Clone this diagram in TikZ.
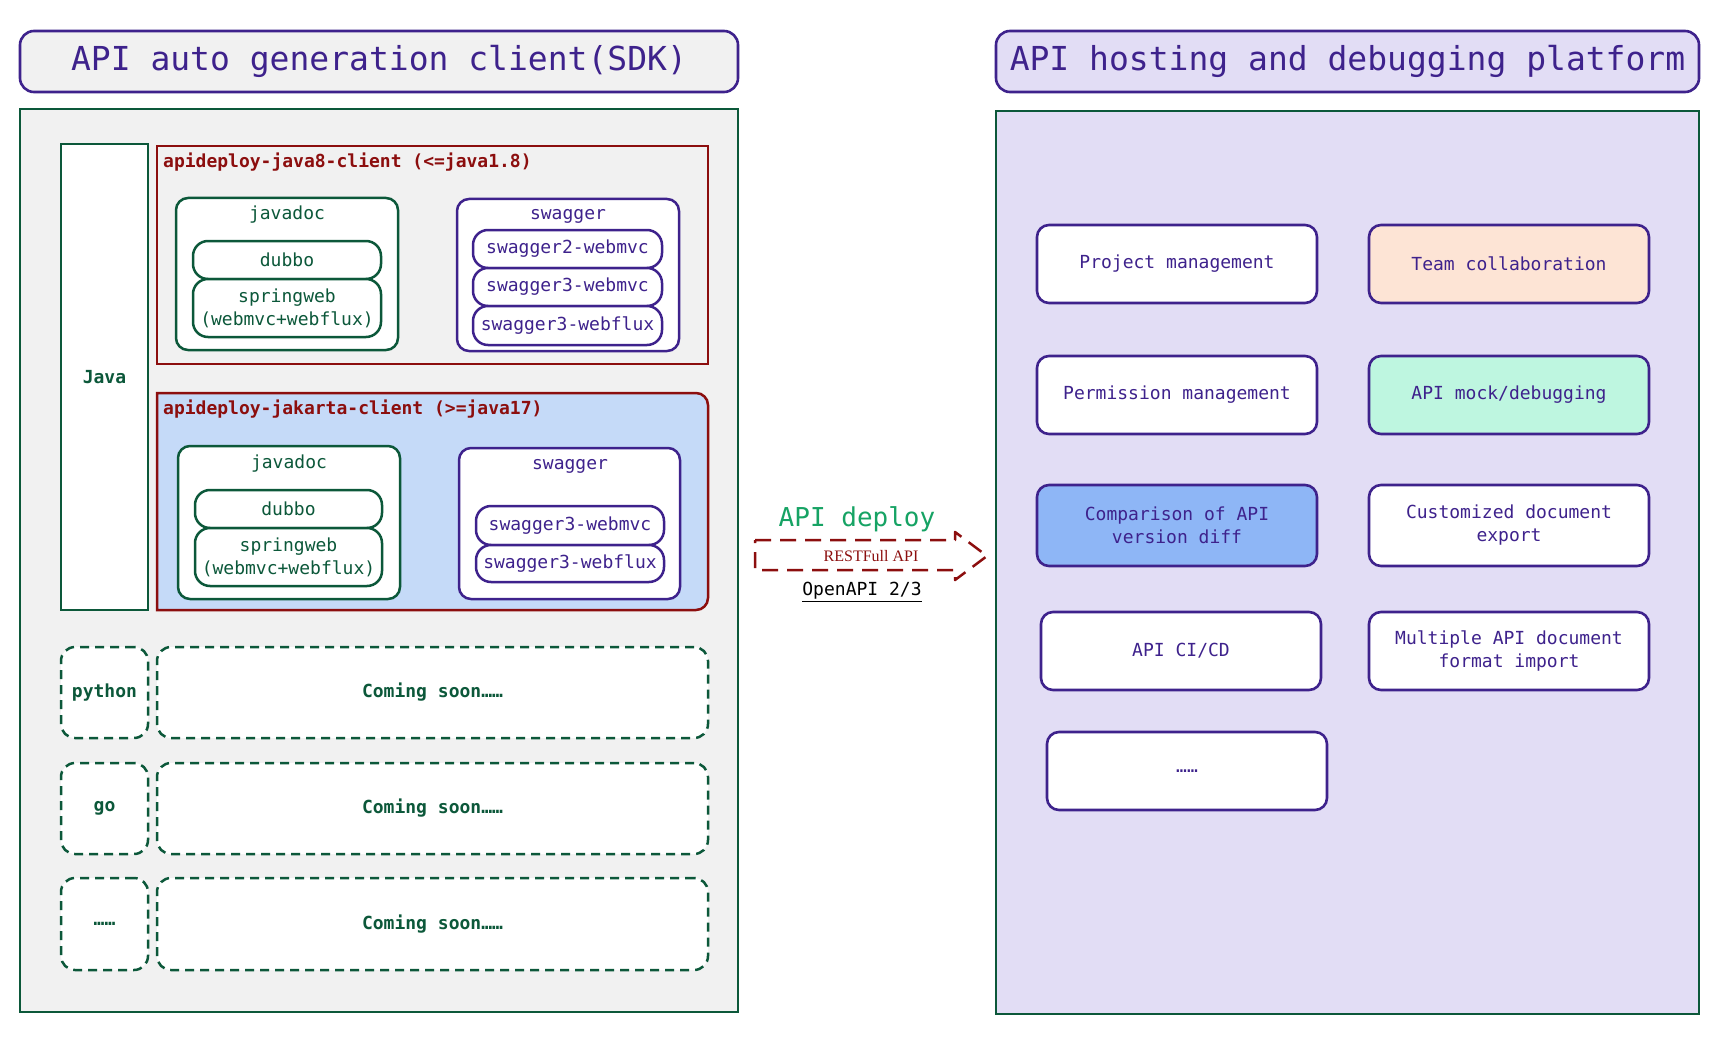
\documentclass[tikz,border=0pt]{standalone}
\usepackage{fontspec}
\setmainfont{DejaVu Sans Mono}
\setmonofont{DejaVu Sans Mono}
\newfontfamily\serifR{Liberation Serif}
\definecolor{purp}{RGB}{62,34,140}
\definecolor{dgreen}{RGB}{12,88,58}
\definecolor{dred}{RGB}{140,14,14}
\definecolor{lgray}{RGB}{241,241,241}
\definecolor{lav}{RGB}{226,221,245}
\definecolor{jblue}{RGB}{197,218,248}
\definecolor{peach}{RGB}{253,228,213}
\definecolor{mint}{RGB}{190,246,224}
\definecolor{cblue}{RGB}{142,182,246}
\definecolor{dgreenT}{RGB}{22,163,100}
\tikzset{
  base/.style={anchor=north west, inner sep=0pt, outer sep=0pt, align=center, line width=2.5pt, font=\fontsize{18}{23}\selectfont},
  gbox/.style={base, draw=dgreen, text=dgreen, fill=white, rounded corners=12pt},
  gpill/.style={gbox, rounded corners=15pt},
  pbox/.style={base, draw=purp, text=purp, fill=white, rounded corners=12pt},
  ppill/.style={pbox, rounded corners=15pt},
  dbox/.style={base, draw=dgreen, text=dgreen, fill=white, dash pattern=on 9pt off 6pt, rounded corners=14pt, font=\fontsize{18}{23}\selectfont\bfseries},
  tbox/.style={base, draw=purp, text=purp, line width=2.6pt, rounded corners=14pt, font=\fontsize{33}{40}\selectfont},
  fbox/.style={base, draw=purp, text=purp, line width=2.6pt, rounded corners=12pt, fill=white},
  lbl/.style={inner sep=0pt, font=\fontsize{18}{23}\selectfont},
}
\begin{document}
\begin{tikzpicture}[x=1pt,y=-1pt]
\useasboundingbox (0,0) rectangle (1726,1043);
\fill[white] (0,0) rectangle (1726,1043);
% ---------- left side ----------
\node[tbox, fill=lgray, minimum width=718pt, minimum height=61pt] (titleL) at (20,31) {API auto generation client(SDK)};
\node[base, draw=dgreen, fill=lgray, line width=2.2pt, minimum width=718pt, minimum height=903pt] (sdk) at (20,109) {};
\node[base, draw=dgreen, text=dgreen, fill=white, font=\fontsize{18}{23}\selectfont\bfseries, minimum width=87pt, minimum height=466pt] (java) at (61,144) {Java};
% java8 client
\node[base, draw=dred, minimum width=551pt, minimum height=218pt] (j8) at (157,146) {};
\node[lbl, anchor=west, text=dred, font=\fontsize{18}{23}\selectfont\bfseries] (j8lbl) at (163,162) {apideploy-java8-client (<=java1.8)};
\node[gbox, minimum width=222pt, minimum height=152pt] (jd1) at (176,198) {};
\node[lbl, text=dgreen] (jd1lbl) at (287,215) {javadoc};
\node[gpill, minimum width=188pt, minimum height=38pt] (dub1) at (193,241) {dubbo};
\node[gpill, minimum width=188pt, minimum height=58pt] (spw1) at (193,279) {springweb\\(webmvc+webflux)};
\node[pbox, minimum width=222pt, minimum height=152pt] (sg1) at (457,199) {};
\node[lbl, text=purp] (sg1lbl) at (568,216) {swagger};
\node[ppill, minimum width=189pt, minimum height=38pt] (s2m1) at (473,230) {swagger2-webmvc};
\node[ppill, minimum width=189pt, minimum height=38pt] (s3m1) at (473,268) {swagger3-webmvc};
\node[ppill, minimum width=189pt, minimum height=39pt] (s3f1) at (473,306) {swagger3-webflux};
% jakarta client
\node[base, minimum width=551pt, minimum height=217pt] (jk) at (157,393) {};
\draw[dred, fill=jblue, line width=2.5pt] (jk.north west) -- ([xshift=-12pt]jk.north east) arc[start angle=90, end angle=0, radius=12pt] -- ([yshift=12pt]jk.south east) arc[start angle=0, end angle=-90, radius=12pt] -- (jk.south west) -- cycle;
\node[lbl, anchor=west, text=dred, font=\fontsize{18}{23}\selectfont\bfseries] (jklbl) at (163,409) {apideploy-jakarta-client (>=java17)};
\node[gbox, minimum width=222pt, minimum height=153pt] (jd2) at (178,446) {};
\node[lbl, text=dgreen] (jd2lbl) at (289,464) {javadoc};
\node[gpill, minimum width=187pt, minimum height=38pt] (dub2) at (195,490) {dubbo};
\node[gpill, minimum width=187pt, minimum height=58pt] (spw2) at (195,528) {springweb\\(webmvc+webflux)};
\node[pbox, minimum width=221pt, minimum height=151pt] (sg2) at (459,448) {};
\node[lbl, text=purp] (sg2lbl) at (570,466) {swagger};
\node[ppill, minimum width=188pt, minimum height=39pt] (s3m2) at (476,506) {swagger3-webmvc};
\node[ppill, minimum width=188pt, minimum height=37pt] (s3f2) at (476,545) {swagger3-webflux};
% other languages
\node[dbox, minimum width=87pt, minimum height=91pt] (py) at (61,647) {python};
\node[dbox, minimum width=551pt, minimum height=91pt] (cs1) at (157,647) {Coming soon……};
\node[dbox, minimum width=87pt, minimum height=91pt] (go) at (61,763) {go};
\node[dbox, minimum width=551pt, minimum height=91pt] (cs2) at (157,763) {Coming soon……};
\node[dbox, minimum width=87pt, minimum height=92pt] (etc) at (61,878) {……};
\node[dbox, minimum width=551pt, minimum height=92pt] (cs3) at (157,878) {Coming soon……};
% ---------- deploy arrow ----------
\coordinate (a1) at (755,540);
\coordinate (a2) at (955,540);
\coordinate (a3) at (955,532);
\coordinate (a4) at (987,556);
\coordinate (a5) at (955,580);
\coordinate (a6) at (955,570);
\coordinate (a7) at (755,570);
\draw[dred, line width=2.5pt, dash pattern=on 16pt off 9pt, line join=round] (a1) -- (a2) -- (a3) -- (a4) -- (a5) -- (a6) -- (a7) -- cycle;
\node[inner sep=0pt, text=dgreenT, font=\fontsize{26}{30}\selectfont] (dep) at (857,519) {API deploy};
\node[inner sep=0pt, text=dred, font=\serifR\fontsize{16}{18}\selectfont] (rest) at (871,556) {RESTFull API};
\node[inner sep=0pt, text=black, font=\fontsize{18}{23}\selectfont] (oapi) at (862,592) {\underline{OpenAPI 2/3}};
% ---------- right side ----------
\node[tbox, fill=lav, minimum width=703pt, minimum height=61pt] (titleR) at (996,31) {API hosting and debugging platform};
\node[base, draw=dgreen, fill=lav, line width=2.2pt, minimum width=703pt, minimum height=903pt] (plat) at (996,111) {};
\node[fbox, minimum width=280pt, minimum height=78pt] (pm) at (1037,225) {Project management};
\node[fbox, fill=peach, minimum width=280pt, minimum height=78pt] (tc) at (1369,225) {Team collaboration};
\node[fbox, minimum width=280pt, minimum height=78pt] (perm) at (1037,356) {Permission management};
\node[fbox, fill=mint, minimum width=280pt, minimum height=78pt] (mock) at (1369,356) {API mock/debugging};
\node[fbox, fill=cblue, minimum width=280pt, minimum height=81pt] (cmp) at (1037,485) {Comparison of API\\version diff};
\node[fbox, minimum width=280pt, minimum height=81pt] (cde) at (1369,485) {Customized document\\export};
\node[fbox, minimum width=280pt, minimum height=78pt] (cicd) at (1041,612) {API CI/CD};
\node[fbox, minimum width=280pt, minimum height=78pt] (mult) at (1369,612) {Multiple API document\\format import};
\node[fbox, minimum width=280pt, minimum height=78pt] (more) at (1047,732) {……};
\end{tikzpicture}
\end{document}
